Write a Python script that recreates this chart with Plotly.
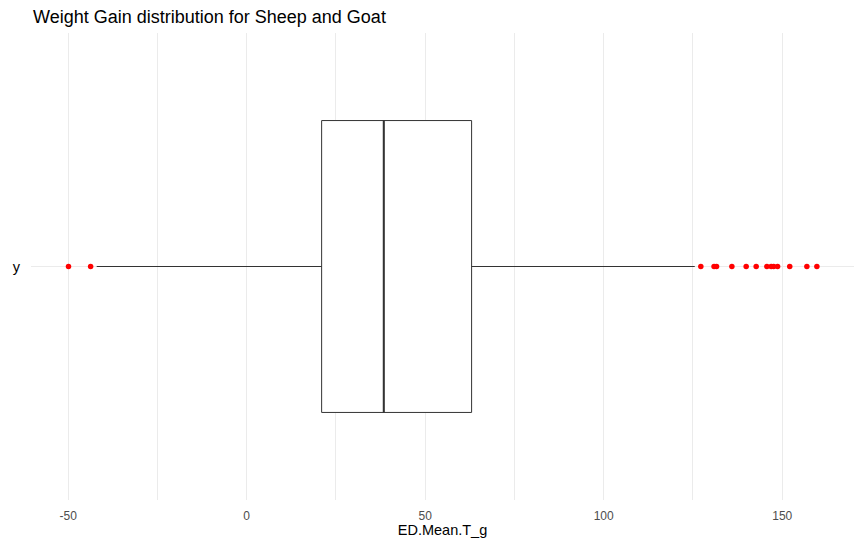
import plotly.graph_objects as go

# Box statistics
q1 = [21.0]
median = [38.4]
q3 = [63.0]
lower_fence = [-42.0]
upper_fence = [125.5]

# Outliers
outliers = [-49.9, -43.7, 127.2, 130.9, 131.6, 135.9, 139.9, 142.7, 145.7,
            146.9, 147.6, 148.7, 152.1, 156.9, 159.7]

category_label = ["y"]
tick_vals_x = [-50, 0, 50, 100, 150]
tick_text_x = ["-50", "0", "50", "100", "150"]

fig = go.Figure()
fig.add_trace(go.Box(
    y=[0], q1=q1, median=median, q3=q3,
    lowerfence=lower_fence, upperfence=upper_fence,
    orientation="h", width=0.75, boxpoints=False,
    fillcolor="white", line=dict(color="#333333", width=1),
    whiskerwidth=0, hoverinfo="skip", showlegend=False,
))
# Thicker median line as in ggplot
fig.add_trace(go.Scatter(
    x=[median[0], median[0]], y=[-0.375, 0.375], mode="lines",
    line=dict(color="#333333", width=2), showlegend=False, hoverinfo="skip",
))
fig.add_trace(go.Scatter(
    x=outliers, y=[0] * len(outliers), mode="markers",
    marker=dict(color="red", size=5.5), showlegend=False,
))

W, H = 846, 530
fig.update_layout(
    width=W, height=H,
    paper_bgcolor="white", plot_bgcolor="white",
    margin=dict(l=23, r=0, t=24.5, b=38, autoexpand=False),
    font=dict(family="Liberation Sans, Arial, sans-serif"),
    title=dict(text="Weight Gain distribution for Sheep and Goat",
               x=25 / W, xanchor="left", y=1 - 9 / H, yanchor="middle",
               font=dict(size=18, color="black"), automargin=False),
)
fig.update_xaxes(
    range=[-60.4, 170.1], tickvals=tick_vals_x, ticktext=tick_text_x,
    showgrid=True, gridcolor="#EBEBEB", gridwidth=1,
    minor=dict(dtick=25, tick0=-25, showgrid=True, gridcolor="#EBEBEB", gridwidth=1),
    zeroline=False, showline=False, ticks="", automargin=False,
    ticklabelstandoff=7,
    tickfont=dict(size=12, color="#4D4D4D"),
    title=dict(text="ED.Mean.T_g", font=dict(size=14.5, color="black"), standoff=7),
)
fig.update_yaxes(
    range=[-0.6, 0.6], tickvals=[0], ticktext=category_label,
    showgrid=True, gridcolor="#EBEBEB", zeroline=False, showline=False, ticks="",
    automargin=False, ticklabelstandoff=10,
    tickfont=dict(size=14.5, color="black"),
)

fig.write_html("out.html")
